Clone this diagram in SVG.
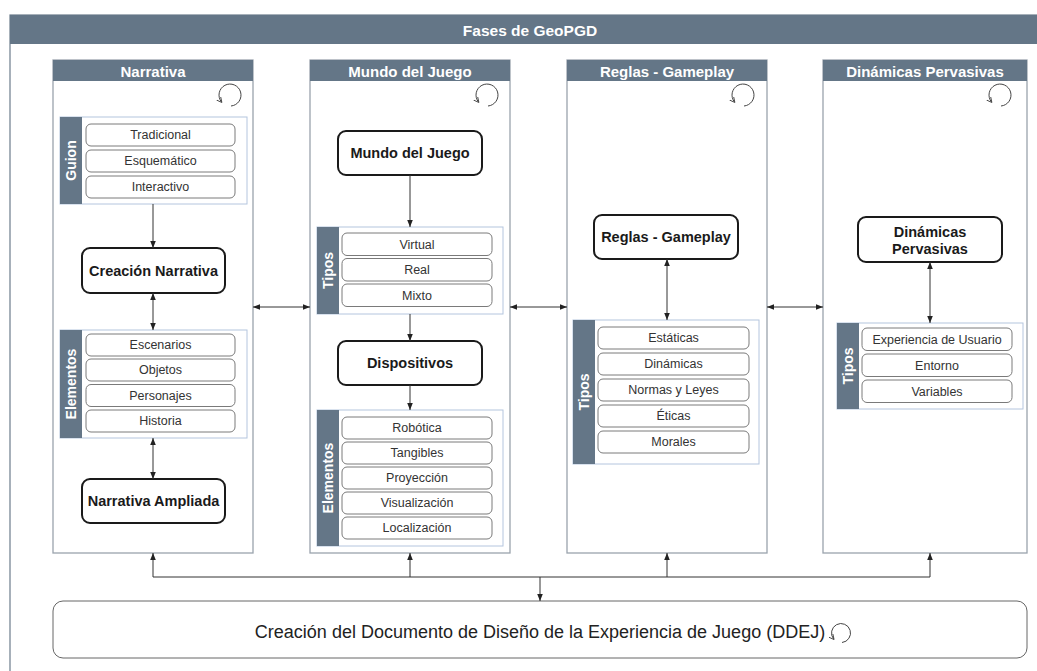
<svg xmlns="http://www.w3.org/2000/svg" width="1037" height="671" viewBox="0 0 1037 671">
  <style>
    .bg { fill: #ffffff; }
    .band { fill: #647687; }
    .frame { fill: #ffffff; stroke: #6d7c8c; stroke-width: 1.2; }
    .lane { fill: #ffffff; stroke: #9aa3ad; stroke-width: 1.3; }
    .group { fill: #ffffff; stroke: #b4c5de; stroke-width: 1; }
    .item { fill: #ffffff; stroke: #7a7a7a; stroke-width: 1; }
    .main { fill: #ffffff; stroke: #1a1a1a; stroke-width: 2; }
    .doc { fill: #ffffff; stroke: #666666; stroke-width: 1; }
    .ttl { font-family: "Liberation Sans", Arial, sans-serif; font-weight: bold; fill: #ffffff; text-anchor: middle; dominant-baseline: central; }
    .side { font-family: "Liberation Sans", Arial, sans-serif; font-weight: bold; font-size: 14px; fill: #ffffff; text-anchor: middle; dominant-baseline: central; }
    .itx { font-family: "Liberation Sans", Arial, sans-serif; font-size: 12.5px; fill: #333333; text-anchor: middle; dominant-baseline: central; }
    .mtx { font-family: "Liberation Sans", Arial, sans-serif; font-weight: bold; font-size: 14.5px; fill: #1a1a1a; text-anchor: middle; dominant-baseline: central; }
    .dtx { font-family: "Liberation Sans", Arial, sans-serif; font-size: 18px; fill: #222222; text-anchor: middle; dominant-baseline: central; }
    .wire { fill: none; stroke: #333333; stroke-width: 1; }
    .cyc { fill: none; stroke: #444444; stroke-width: 1; }
  </style>
  <defs>
    <marker id="head" viewBox="0 0 8 8" refX="8" refY="4" markerWidth="7" markerHeight="7" markerUnits="userSpaceOnUse" orient="auto-start-reverse">
      <path d="M0,0.8 L8,4 L0,7.2 z" fill="#222222"/>
    </marker>
    <marker id="cycHead" viewBox="0 0 8 8" refX="6" refY="4" markerWidth="6" markerHeight="6" markerUnits="userSpaceOnUse" orient="auto">
      <path d="M0,0.5 L7,4 L0,7.5" fill="none" stroke="#444444" stroke-width="1.2"/>
    </marker>
    <!-- circular "iterate" glyph, radius 11, centred on its origin -->
    <path id="cycle" d="M1,11 A11 11 0 1 0 -8.6,6.9" class="cyc" marker-end="url(#cycHead)"/>
    <path id="cycleSmall" d="M1,9.5 A9.5 9.5 0 1 0 -7.4,6" class="cyc" marker-end="url(#cycHead)"/>
  </defs>

  <rect class="bg" x="0" y="0" width="1037" height="671"/>

  <!-- outer container -->
  <g id="fases">
    <rect class="frame" x="10" y="15" width="1040" height="680"/>
    <rect class="band" x="10" y="15" width="1040" height="29"/>
    <text class="ttl" x="530" y="30" font-size="15.5">Fases de GeoPGD</text>
  </g>

  <!-- phase lanes -->
  <g id="lane-narrativa">
    <rect class="lane" x="53" y="60" width="200" height="493"/>
    <rect class="band" x="53" y="60" width="200" height="21"/>
    <text class="ttl" x="153" y="71" font-size="15">Narrativa</text>
    <use href="#cycle" x="230" y="95"/>
  </g>
  <g id="lane-mundo">
    <rect class="lane" x="310" y="60" width="200" height="493"/>
    <rect class="band" x="310" y="60" width="200" height="21"/>
    <text class="ttl" x="410" y="71" font-size="15">Mundo del Juego</text>
    <use href="#cycle" x="487" y="95"/>
  </g>
  <g id="lane-reglas">
    <rect class="lane" x="567" y="60" width="200" height="493"/>
    <rect class="band" x="567" y="60" width="200" height="21"/>
    <text class="ttl" x="667" y="71" font-size="15">Reglas - Gameplay</text>
    <use href="#cycle" x="743" y="95"/>
  </g>
  <g id="lane-dinamicas">
    <rect class="lane" x="823" y="60" width="204" height="493"/>
    <rect class="band" x="823" y="60" width="204" height="21"/>
    <text class="ttl" x="925" y="71" font-size="15">Dinámicas Pervasivas</text>
    <use href="#cycle" x="1000" y="95"/>
  </g>

  <!-- Narrativa -->
  <g id="guion">
    <rect class="group" x="60" y="117" width="187" height="87"/>
    <rect class="band" x="60" y="117" width="22" height="87"/>
    <text class="side" transform="translate(71,160.5) rotate(-90)">Guion</text>
    <rect class="item" x="86" y="124" width="149" height="22" rx="5"/>
    <text class="itx" x="160.5" y="135">Tradicional</text>
    <rect class="item" x="86" y="150" width="149" height="22" rx="5"/>
    <text class="itx" x="160.5" y="161">Esquemático</text>
    <rect class="item" x="86" y="176" width="149" height="22" rx="5"/>
    <text class="itx" x="160.5" y="187">Interactivo</text>
  </g>
  <g id="creacion-narrativa">
    <rect class="main" x="82" y="248" width="143" height="45" rx="8"/>
    <text class="mtx" x="153.5" y="270.5">Creación Narrativa</text>
  </g>
  <g id="elementos-narrativa">
    <rect class="group" x="60" y="330" width="187" height="108"/>
    <rect class="band" x="60" y="330" width="22" height="108"/>
    <text class="side" transform="translate(71,384) rotate(-90)">Elementos</text>
    <rect class="item" x="86" y="334" width="149" height="22" rx="5"/>
    <text class="itx" x="160.5" y="345">Escenarios</text>
    <rect class="item" x="86" y="359" width="149" height="22" rx="5"/>
    <text class="itx" x="160.5" y="370">Objetos</text>
    <rect class="item" x="86" y="384.5" width="149" height="22" rx="5"/>
    <text class="itx" x="160.5" y="395.5">Personajes</text>
    <rect class="item" x="86" y="410" width="149" height="22" rx="5"/>
    <text class="itx" x="160.5" y="421">Historia</text>
  </g>
  <g id="narrativa-ampliada">
    <rect class="main" x="82" y="479" width="143" height="44" rx="8"/>
    <text class="mtx" x="153.5" y="501">Narrativa Ampliada</text>
  </g>

  <!-- Mundo del Juego -->
  <g id="mundo-del-juego">
    <rect class="main" x="338" y="131" width="144" height="44" rx="8"/>
    <text class="mtx" x="410" y="153">Mundo del Juego</text>
  </g>
  <g id="tipos-mundo">
    <rect class="group" x="317" y="227" width="186" height="87"/>
    <rect class="band" x="317" y="227" width="22" height="87"/>
    <text class="side" transform="translate(328,270.5) rotate(-90)">Tipos</text>
    <rect class="item" x="342" y="233" width="150" height="22.5" rx="5"/>
    <text class="itx" x="417" y="244.5">Virtual</text>
    <rect class="item" x="342" y="258.5" width="150" height="22.5" rx="5"/>
    <text class="itx" x="417" y="270">Real</text>
    <rect class="item" x="342" y="284" width="150" height="22.5" rx="5"/>
    <text class="itx" x="417" y="295.5">Mixto</text>
  </g>
  <g id="dispositivos">
    <rect class="main" x="338" y="341" width="144" height="44" rx="8"/>
    <text class="mtx" x="410" y="363">Dispositivos</text>
  </g>
  <g id="elementos-mundo">
    <rect class="group" x="317" y="410" width="186" height="136"/>
    <rect class="band" x="317" y="410" width="22" height="136"/>
    <text class="side" transform="translate(328,478) rotate(-90)">Elementos</text>
    <rect class="item" x="342" y="417" width="150" height="22" rx="5"/>
    <text class="itx" x="417" y="428">Robótica</text>
    <rect class="item" x="342" y="442" width="150" height="22" rx="5"/>
    <text class="itx" x="417" y="453">Tangibles</text>
    <rect class="item" x="342" y="467" width="150" height="22" rx="5"/>
    <text class="itx" x="417" y="478">Proyección</text>
    <rect class="item" x="342" y="492" width="150" height="22" rx="5"/>
    <text class="itx" x="417" y="503">Visualización</text>
    <rect class="item" x="342" y="517" width="150" height="22" rx="5"/>
    <text class="itx" x="417" y="528">Localización</text>
  </g>

  <!-- Reglas - Gameplay -->
  <g id="reglas-gameplay">
    <rect class="main" x="594" y="215" width="144" height="44" rx="8"/>
    <text class="mtx" x="666" y="237">Reglas - Gameplay</text>
  </g>
  <g id="tipos-reglas">
    <rect class="group" x="573" y="320" width="186" height="144"/>
    <rect class="band" x="573" y="320" width="22" height="144"/>
    <text class="side" transform="translate(584,392) rotate(-90)">Tipos</text>
    <rect class="item" x="598" y="327" width="151" height="22" rx="5"/>
    <text class="itx" x="673.5" y="338">Estáticas</text>
    <rect class="item" x="598" y="353" width="151" height="22" rx="5"/>
    <text class="itx" x="673.5" y="364">Dinámicas</text>
    <rect class="item" x="598" y="379" width="151" height="22" rx="5"/>
    <text class="itx" x="673.5" y="390">Normas y Leyes</text>
    <rect class="item" x="598" y="405" width="151" height="22" rx="5"/>
    <text class="itx" x="673.5" y="416">Éticas</text>
    <rect class="item" x="598" y="431" width="151" height="22" rx="5"/>
    <text class="itx" x="673.5" y="442">Morales</text>
  </g>

  <!-- Dinámicas Pervasivas -->
  <g id="dinamicas-pervasivas">
    <rect class="main" x="858" y="217" width="144" height="45" rx="8"/>
    <text class="mtx" x="930" y="231.5">Dinámicas</text>
    <text class="mtx" x="930" y="248.5">Pervasivas</text>
  </g>
  <g id="tipos-dinamicas">
    <rect class="group" x="837" y="323" width="186" height="86"/>
    <rect class="band" x="837" y="323" width="22" height="86"/>
    <text class="side" transform="translate(848,366) rotate(-90)">Tipos</text>
    <rect class="item" x="862" y="328" width="150" height="22.5" rx="5"/>
    <text class="itx" x="937" y="339.5">Experiencia de Usuario</text>
    <rect class="item" x="862" y="354" width="150" height="22.5" rx="5"/>
    <text class="itx" x="937" y="365.5">Entorno</text>
    <rect class="item" x="862" y="380" width="150" height="22.5" rx="5"/>
    <text class="itx" x="937" y="391.5">Variables</text>
  </g>

  <!-- design document -->
  <g id="ddej">
    <rect class="doc" x="53" y="601" width="974" height="57" rx="10"/>
    <text class="dtx" x="540" y="632">Creación del Documento de Diseño de la Experiencia de Juego (DDEJ)</text>
    <use href="#cycleSmall" x="841" y="633"/>
  </g>

  <!-- connectors -->
  <g id="connectors">
    <path class="wire" d="M153,204 V248" marker-end="url(#head)"/>
    <path class="wire" d="M153,293 V330" marker-start="url(#head)" marker-end="url(#head)"/>
    <path class="wire" d="M153,438 V479" marker-start="url(#head)" marker-end="url(#head)"/>

    <path class="wire" d="M410,175 V227" marker-end="url(#head)"/>
    <path class="wire" d="M410,314 V341" marker-end="url(#head)"/>
    <path class="wire" d="M410,385 V410" marker-end="url(#head)"/>

    <path class="wire" d="M667,259 V320" marker-start="url(#head)" marker-end="url(#head)"/>
    <path class="wire" d="M930,262 V323" marker-start="url(#head)" marker-end="url(#head)"/>

    <path class="wire" d="M253,307 H310" marker-start="url(#head)" marker-end="url(#head)"/>
    <path class="wire" d="M510,307 H567" marker-start="url(#head)" marker-end="url(#head)"/>
    <path class="wire" d="M767,307 H823" marker-start="url(#head)" marker-end="url(#head)"/>

    <path class="wire" d="M153,577 H930"/>
    <path class="wire" d="M153,577 V553" marker-end="url(#head)"/>
    <path class="wire" d="M410,577 V553" marker-end="url(#head)"/>
    <path class="wire" d="M667,577 V553" marker-end="url(#head)"/>
    <path class="wire" d="M930,577 V553" marker-end="url(#head)"/>
    <path class="wire" d="M540,577 V601" marker-end="url(#head)"/>
  </g>
</svg>
